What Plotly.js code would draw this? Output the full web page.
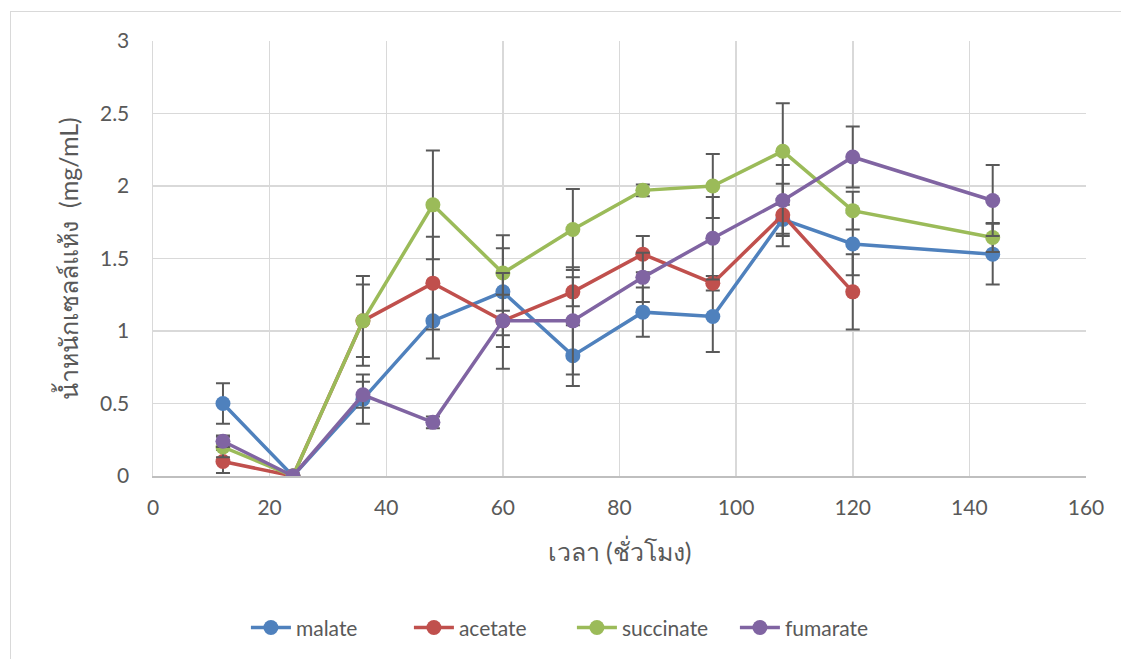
<!DOCTYPE html>
<html>
<head>
<meta charset="utf-8">
<script src="https://cdn.plot.ly/plotly-3.0.1.min.js"></script>
<style>
html,body{margin:0;padding:0;background:#fff;overflow:hidden;}
#frame{position:absolute;left:10px;top:11px;width:1200px;height:700px;border:1.5px solid #d9d9d9;box-sizing:border-box;}
#chart{position:absolute;left:0;top:0;width:1121px;height:659px;}
</style>
</head>
<body>
<div id="frame"></div>
<div id="chart"></div>
<script>
const hours = [12, 24, 36, 48, 60, 72, 84, 96, 108, 120, 144];

const malate      = [0.50, 0, 0.53, 1.07, 1.27, 0.83, 1.13, 1.10, 1.77, 1.60, 1.53];
const malateErr   = [0.14, 0, 0.17, 0.26, 0.30, 0.21, 0.17, 0.245, 0.10, 0.215, 0.21];

const acetate     = [0.10, 0, 1.07, 1.33, 1.07, 1.27, 1.53, 1.33, 1.80, 1.27, null];
const acetateErr  = [0.08, 0, 0.25, 0.32, 0.18, 0.10, 0.125, 0.05, 0.215, 0.26, null];

const succinate   = [0.20, 0, 1.07, 1.87, 1.40, 1.70, 1.97, 2.00, 2.24, 1.83, 1.645];
const succinateErr= [0.07, 0, 0.31, 0.375, 0.26, 0.28, 0.04, 0.22, 0.33, 0.13, 0.10];

const fumarate    = [0.24, 0, 0.56, 0.37, 1.07, 1.07, 1.37, 1.64, 1.90, 2.20, 1.90];
const fumarateErr = [0.04, 0, 0.09, 0.04, 0.33, 0.37, 0.17, 0.285, 0.245, 0.21, 0.245];

const seriesNames = ['malate', 'acetate', 'succinate', 'fumarate'];
const colors = ['#4f81bd', '#c0504d', '#9bbb59', '#8064a2'];
const values = [malate, acetate, succinate, fumarate];
const errors = [malateErr, acetateErr, succinateErr, fumarateErr];

const FONT = 'Lato, Calibri, Carlito, "Noto Sans", sans-serif';

const traces = seriesNames.map((n, i) => ({
  x: hours,
  y: values[i],
  name: n,
  type: 'scatter',
  mode: 'lines+markers',
  connectgaps: false,
  line: {color: colors[i], width: 3.5},
  marker: {color: colors[i], size: 15},
  error_y: {type: 'data', array: errors[i], visible: true, color: '#595959', thickness: 2, width: 7}
}));

const layout = {
  width: 1121, height: 659,
  paper_bgcolor: 'rgba(0,0,0,0)',
  plot_bgcolor: 'rgba(0,0,0,0)',
  margin: {l: 153, r: 35, t: 41, b: 182},
  font: {family: FONT, color: '#595959', size: 21},
  showlegend: true,
  legend: {orientation: 'h', x: 0.449, xanchor: 'center', y: -0.346, yanchor: 'middle',
           font: {size: 21, color: '#595959'}, itemwidth: 40, tracegroupgap: 0,
           entrywidth: 108, entrywidthmode: 'pixels'},
  xaxis: {
    range: [0, 160], dtick: 20, tick0: 0,
    showgrid: true, gridcolor: '#d9d9d9', gridwidth: 1.5,
    zeroline: false, showline: true, linecolor: '#bfbfbf', linewidth: 1.5,
    ticks: '', ticklabelstandoff: 12, tickfont: {size: 21, color: '#595959'},
    title: {text: 'เวลา (ชั่วโมง)', font: {size: 25, color: '#595959'}, standoff: 26}
  },
  yaxis: {
    range: [0, 3], dtick: 0.5, tick0: 0,
    showgrid: true, gridcolor: '#d9d9d9', gridwidth: 1.5,
    zeroline: false, showline: true, linecolor: '#d9d9d9', linewidth: 1.5,
    ticks: '', ticklabelstandoff: 18, tickfont: {size: 21, color: '#595959'},
    title: {text: 'น้ำหนักเซลล์แห้ง  (mg/mL)', font: {size: 25, color: '#595959'}, standoff: 14}
  }
};

Plotly.newPlot('chart', traces, layout, {displayModeBar: false, staticPlot: true});
</script>
</body>
</html>
